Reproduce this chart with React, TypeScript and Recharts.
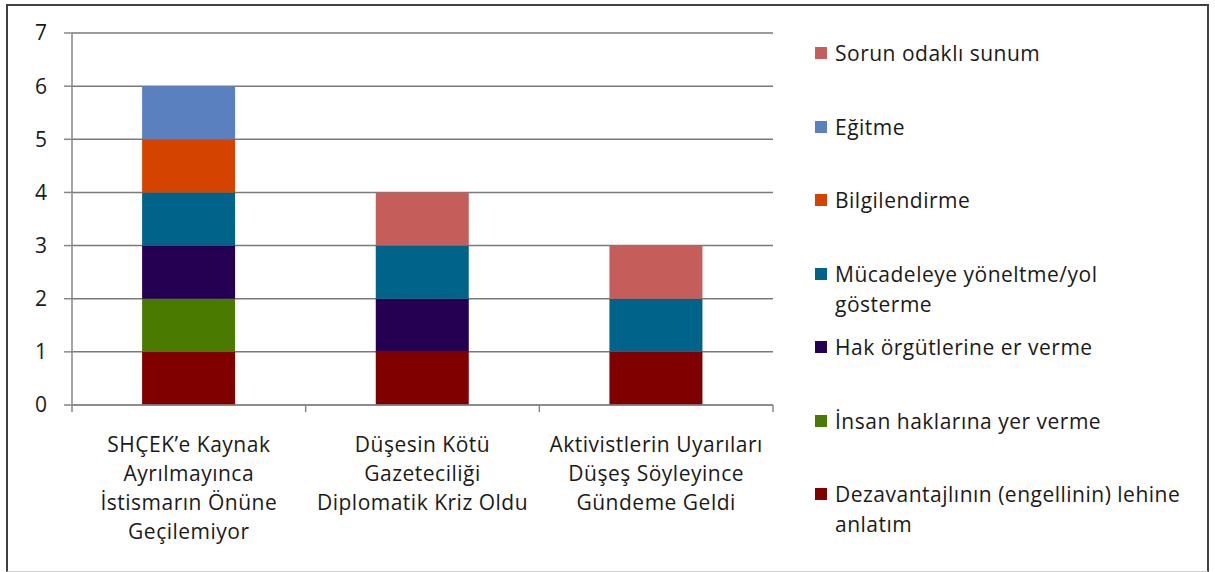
import React from 'react';
import { BarChart, Bar, XAxis, YAxis, CartesianGrid, Legend } from 'recharts';

const categories = [
  'SHÇEK\u2019e Kaynak\nAyrılmayınca\nİstismarın Önüne\nGeçilemiyor',
  'Düşesin Kötü\nGazeteciliği\nDiplomatik Kriz Oldu',
  'Aktivistlerin Uyarıları\nDüşeş Söyleyince\nGündeme Geldi',
];

const seriesNames = [
  'Dezavantajlının (engellinin) lehine\nanlatım',
  'İnsan haklarına yer verme',
  'Hak örgütlerine er verme',
  'Mücadeleye yöneltme/yol\ngösterme',
  'Bilgilendirme',
  'Eğitme',
  'Sorun odaklı sunum',
];
const seriesColors = ['#800000', '#4A7A00', '#250052', '#00648A', '#D44400', '#5B80BF', '#C55D5A'];

const dezavantajli = [1, 1, 1];
const insanHaklari = [1, 0, 0];
const hakOrgutleri = [1, 1, 0];
const mucadele = [1, 1, 1];
const bilgilendirme = [1, 0, 0];
const egitme = [1, 0, 0];
const sorunOdakli = [0, 1, 1];

const yTicks = [0, 1, 2, 3, 4, 5, 6, 7];

const seriesValues = [dezavantajli, insanHaklari, hakOrgutleri, mucadele, bilgilendirme, egitme, sorunOdakli];
const keys = ['s0', 's1', 's2', 's3', 's4', 's5', 's6'];

const data = categories.map((c, i) => {
  const row: any = { name: c };
  seriesValues.forEach((arr, k) => {
    row[keys[k]] = arr[i];
  });
  return row;
});

const FONT = '"Open Sans", "Noto Sans", sans-serif';
const FS = 21;
const LS = 0.5;
const PLOT_LEFT = 72;
const PLOT_RIGHT = 773;
const BAND = (PLOT_RIGHT - PLOT_LEFT) / categories.length;
const AXIS_COLOR = '#878787';
const TEXT = '#1a1a1a';

const XTick = (props: any) => {
  const { x, y, payload, index } = props;
  const lines = String(payload.value).split('\n');
  const left = x - BAND / 2;
  const right = x + BAND / 2;
  return (
    <g>
      <line x1={left} y1={y} x2={left} y2={y + 7} stroke={AXIS_COLOR} strokeWidth={1.5} />
      {index === categories.length - 1 && (
        <line x1={right} y1={y} x2={right} y2={y + 7} stroke={AXIS_COLOR} strokeWidth={1.5} />
      )}
      <text
        x={x}
        y={y}
        textAnchor="middle"
        fill={TEXT}
        fontSize={FS}
        fontFamily={FONT}
        letterSpacing={LS}
      >
        {lines.map((l, i) => (
          <tspan key={i} x={x} y={y + 47 + i * 29}>
            {l}
          </tspan>
        ))}
      </text>
    </g>
  );
};

const LegendContent = () => {
  const order = [...seriesNames.keys()].reverse();
  return (
    <div style={{ fontFamily: FONT, fontSize: FS, color: TEXT, letterSpacing: LS }}>
      {order.map((k) => (
        <div key={k} style={{ position: 'relative', height: 73.5 }}>
          <div
            style={{
              position: 'absolute',
              left: 0,
              top: 9,
              width: 12,
              height: 12,
              background: seriesColors[k],
            }}
          />
          <div
            style={{
              position: 'absolute',
              left: 20,
              top: 0,
              lineHeight: '30px',
              whiteSpace: 'pre',
            }}
          >
            {seriesNames[k]}
          </div>
        </div>
      ))}
    </div>
  );
};

export default function App() {
  return (
    <div style={{ position: 'absolute', left: 0, top: 0, width: 1215, height: 572, background: '#fff' }}>
      <div
        style={{
          position: 'absolute',
          left: 6,
          top: 4,
          width: 1203,
          height: 568,
          boxSizing: 'border-box',
          borderLeft: '2px solid #404040',
          borderTop: '2px solid #404040',
          borderRight: '2px solid #404040',
          borderBottom: '1px solid #d0d0d0',
        }}
      />
      <div style={{ position: 'absolute', left: 0, top: 0 }}>
        <BarChart
          width={1215}
          height={572}
          data={data}
          margin={{ top: 33, right: 1215 - PLOT_RIGHT, bottom: 7, left: 12 }}
          barCategoryGap="30%"
        >
          <CartesianGrid horizontal vertical={false} stroke="#7a7a7a" strokeWidth={1.5} />
          <XAxis
            dataKey="name"
            interval={0}
            height={160}
            tickSize={0}
            tickMargin={0}
            tickLine={false}
            axisLine={{ stroke: AXIS_COLOR, strokeWidth: 1.5 }}
            tick={<XTick />}
          />
          <YAxis
            width={60}
            domain={[0, 7]}
            ticks={yTicks}
            interval={0}
            tickSize={8}
            tickMargin={17}
            axisLine={{ stroke: AXIS_COLOR, strokeWidth: 1.5 }}
            tickLine={{ stroke: AXIS_COLOR, strokeWidth: 1.5 }}
            tick={{ fill: TEXT, fontSize: FS, fontFamily: FONT }}
          />
          <Legend
            layout="vertical"
            align="center"
            verticalAlign="middle"
            content={<LegendContent />}
            wrapperStyle={{ position: 'absolute', left: 815, top: 38, width: 395, height: 'auto' }}
          />
          {keys.map((k, i) => (
            <Bar
              key={k}
              dataKey={k}
              name={seriesNames[i]}
              stackId="a"
              fill={seriesColors[i]}
              isAnimationActive={false}
            />
          ))}
        </BarChart>
      </div>
    </div>
  );
}
